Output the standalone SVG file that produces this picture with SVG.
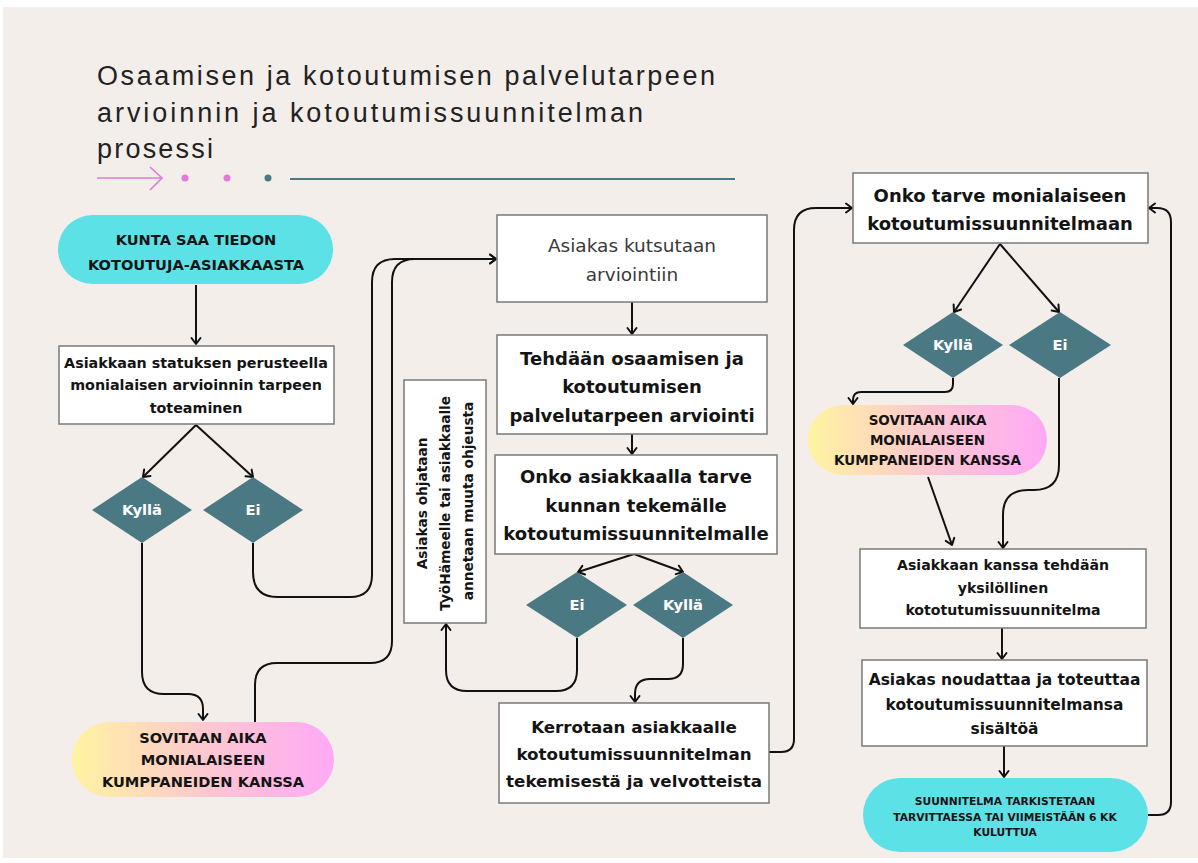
<svg xmlns="http://www.w3.org/2000/svg" width="1198" height="863" viewBox="0 0 1198 863">
<defs>
<linearGradient id="grad" x1="0" y1="0" x2="1" y2="0">
<stop offset="0" stop-color="#fff4a0"/>
<stop offset="0.5" stop-color="#fdc8cf"/>
<stop offset="1" stop-color="#ffa9f6"/>
</linearGradient>
<marker id="arr" markerUnits="userSpaceOnUse" markerWidth="12" markerHeight="12" viewBox="0 0 12 12" refX="10" refY="6" orient="auto">
<path d="M4,1.5 L10,6 L4,10.5" fill="none" stroke="#111" stroke-width="2" stroke-linecap="round" stroke-linejoin="round"/>
</marker>
<style>
.box{fill:#fff;stroke:#7a7a7a;stroke-width:1.5}
.cyan{fill:#5ce1e6}
.pink{fill:url(#grad)}
.dia{fill:#4a7984}
.t{font-family:"DejaVu Sans",sans-serif;font-weight:bold;fill:#141414;text-anchor:middle}
.tw{font-family:"DejaVu Sans",sans-serif;font-weight:bold;fill:#fff;text-anchor:middle;font-size:14.7px}
.tr{font-family:"DejaVu Sans",sans-serif;fill:#3a3a3a;text-anchor:middle}
.title{font-family:"Liberation Sans",Arial,sans-serif;font-size:27px;fill:#222}
.c{fill:none;stroke:#111;stroke-width:2}
</style>
</defs>
<rect x="0" y="0" width="1198" height="863" fill="#fff"/>
<rect x="3" y="7" width="1195" height="851" fill="#f4eeeb"/>

<g id="title">
<text class="title" x="97" y="85" textLength="618" lengthAdjust="spacing">Osaamisen ja kotoutumisen palvelutarpeen</text>
<text class="title" x="97" y="122" textLength="546" lengthAdjust="spacing">arvioinnin ja kotoutumissuunnitelman</text>
<text class="title" x="97" y="158" textLength="116" lengthAdjust="spacing">prosessi</text>
<line x1="97" y1="178" x2="162" y2="178" stroke="#e07bd9" stroke-width="1.6"/>
<path d="M150,167 L162,178 L150,190" fill="none" stroke="#e07bd9" stroke-width="1.6"/>
<circle cx="185" cy="178" r="3.5" fill="#e07bd9"/>
<circle cx="227" cy="178" r="3.5" fill="#e07bd9"/>
<circle cx="268" cy="178" r="3.5" fill="#4a7984"/>
<line x1="290" y1="179" x2="735" y2="179" stroke="#4a7984" stroke-width="2.2"/>
</g>

<g id="connectors">
<path class="c" d="M196,285 L196,344" marker-end="url(#arr)"/>
<path class="c" d="M196,425 L143,477" marker-end="url(#arr)"/>
<path class="c" d="M196,425 L253,477" marker-end="url(#arr)"/>
<path class="c" d="M142,543 L142,672 Q142,694 164,694 L188,694 Q203,694 203,709 L203,720" marker-end="url(#arr)"/>
<path class="c" d="M253,543 L253,572 Q253,597 278,597 L350,597 Q372,597 372,575 L372,282 Q372,259 395,259 L496,259" marker-end="url(#arr)"/>
<path class="c" d="M255,722 L255,685 Q255,663 277,663 L370,663 Q392,663 392,641 L392,282 Q392,259 415,259 L496,259" marker-end="url(#arr)"/>
<path class="c" d="M632,302 L632,334" marker-end="url(#arr)"/>
<path class="c" d="M632,434 L632,454" marker-end="url(#arr)"/>
<path class="c" d="M634,554 L578,572" marker-end="url(#arr)"/>
<path class="c" d="M634,554 L683,572" marker-end="url(#arr)"/>
<path class="c" d="M577,638 L577,670 Q577,691 556,691 L467,691 Q446,691 446,670 L446,624" marker-end="url(#arr)"/>
<path class="c" d="M683,638 L683,664 Q683,679 668,679 L650,679 Q635,679 635,694 L635,702" marker-end="url(#arr)"/>
<path class="c" d="M769,752 L781,752 Q794,752 794,739 L794,230 Q794,208 816,208 L852,208" marker-end="url(#arr)"/>
<path class="c" d="M1000,244 L954,312" marker-end="url(#arr)"/>
<path class="c" d="M1000,244 L1059,312" marker-end="url(#arr)"/>
<path class="c" d="M953,378 L953,384 Q953,392 945,392 L861,392 Q853,392 853,400 L853,404" marker-end="url(#arr)"/>
<path class="c" d="M928,477 L952,545" marker-end="url(#arr)"/>
<path class="c" d="M1059,378 L1059,465 Q1059,490 1034,490 L1028,490 Q1003,490 1003,515 L1003,548" marker-end="url(#arr)"/>
<path class="c" d="M1002,628 L1002,659" marker-end="url(#arr)"/>
<path class="c" d="M1004,746 L1004,777" marker-end="url(#arr)"/>
<path class="c" d="M1148,815 L1158,815 Q1171,815 1171,802 L1171,222 Q1171,208 1157,208 L1149,208" marker-end="url(#arr)"/>
</g>

<g id="n-kunta">
<rect class="cyan" x="58" y="215" width="275" height="69" rx="34.5"/>
<text class="t" font-size="14.6" x="196" y="245">KUNTA SAA TIEDON</text>
<text class="t" font-size="14.6" x="196" y="270">KOTOUTUJA-ASIAKKAASTA</text>
</g>

<g id="n-status">
<rect class="box" x="59" y="346" width="275" height="78"/>
<text class="t" font-size="14.3" x="196" y="368">Asiakkaan statuksen perusteella</text>
<text class="t" font-size="14.3" x="196" y="390">monialaisen arvioinnin tarpeen</text>
<text class="t" font-size="14.3" x="196" y="413">toteaminen</text>
</g>

<g id="n-kylla1">
<polygon class="dia" points="92,510 142,477 192,510 142,543"/>
<text class="tw" x="142" y="515">Kyllä</text>
</g>
<g id="n-ei1">
<polygon class="dia" points="203,510 253,477 303,510 253,543"/>
<text class="tw" x="253" y="515">Ei</text>
</g>

<g id="n-sovitaan1">
<rect class="pink" x="72" y="722" width="262" height="75" rx="37.5"/>
<text class="t" font-size="14.6" x="203" y="743">SOVITAAN AIKA</text>
<text class="t" font-size="14.6" x="203" y="765">MONIALAISEEN</text>
<text class="t" font-size="14.6" x="203" y="787">KUMPPANEIDEN KANSSA</text>
</g>

<g id="n-kutsutaan">
<rect class="box" x="497" y="215" width="270" height="87"/>
<text class="tr" font-size="18.5" x="632" y="252">Asiakas kutsutaan</text>
<text class="tr" font-size="18.5" x="632" y="281">arviointiin</text>
</g>

<g id="n-tehdaan">
<rect class="box" x="497" y="335" width="270" height="99"/>
<text class="t" font-size="18" x="632" y="365">Tehdään osaamisen ja</text>
<text class="t" font-size="18" x="632" y="393">kotoutumisen</text>
<text class="t" font-size="18" x="632" y="422">palvelutarpeen arviointi</text>
</g>

<g id="n-onko1">
<rect class="box" x="495" y="455" width="282" height="99"/>
<text class="t" font-size="18" x="636" y="483">Onko asiakkaalla tarve</text>
<text class="t" font-size="18" x="636" y="512">kunnan tekemälle</text>
<text class="t" font-size="18" x="636" y="540">kotoutumissuunnitelmalle</text>
</g>

<g id="n-ei2">
<polygon class="dia" points="526,605 577,572 627,605 577,638"/>
<text class="tw" x="577" y="610">Ei</text>
</g>
<g id="n-kylla2">
<polygon class="dia" points="633,605 683,572 733,605 683,638"/>
<text class="tw" x="683" y="610">Kyllä</text>
</g>

<g id="n-ohjataan">
<rect class="box" x="404" y="380" width="82" height="243"/>
<text class="t" font-size="13.7" transform="rotate(-90 445 501)">
<tspan x="445" y="483">Asiakas ohjataan</tspan>
<tspan x="445" y="506">TyöHämeelle tai asiakkaalle</tspan>
<tspan x="445" y="529">annetaan muuta ohjeusta</tspan>
</text>
</g>

<g id="n-kerrotaan">
<rect class="box" x="499" y="703" width="270" height="100"/>
<text class="t" font-size="16.7" x="634" y="733">Kerrotaan asiakkaalle</text>
<text class="t" font-size="16.7" x="634" y="760">kotoutumissuunnitelman</text>
<text class="t" font-size="16.7" x="634" y="787">tekemisestä ja velvotteista</text>
</g>

<g id="n-onko2">
<rect class="box" x="853" y="173" width="295" height="70"/>
<text class="t" font-size="18" x="1000" y="202">Onko tarve monialaiseen</text>
<text class="t" font-size="18" x="1000" y="230">kotoutumissuunnitelmaan</text>
</g>

<g id="n-kylla3">
<polygon class="dia" points="903,345 953,312 1003,345 953,378"/>
<text class="tw" x="953" y="350">Kyllä</text>
</g>
<g id="n-ei3">
<polygon class="dia" points="1009,345 1060,312 1111,345 1060,378"/>
<text class="tw" x="1060" y="350">Ei</text>
</g>

<g id="n-sovitaan2">
<rect class="pink" x="808" y="405" width="239" height="70" rx="35"/>
<text class="t" font-size="13.5" x="927.5" y="425">SOVITAAN AIKA</text>
<text class="t" font-size="13.5" x="927.5" y="445">MONIALAISEEN</text>
<text class="t" font-size="13.5" x="927.5" y="465">KUMPPANEIDEN KANSSA</text>
</g>

<g id="n-yksilollinen">
<rect class="box" x="860" y="549" width="286" height="79"/>
<text class="t" font-size="14.1" x="1003" y="570">Asiakkaan kanssa tehdään</text>
<text class="t" font-size="14.1" x="1003" y="593">yksilöllinen</text>
<text class="t" font-size="14.1" x="1003" y="615">kototutumissuunnitelma</text>
</g>

<g id="n-noudattaa">
<rect class="box" x="862" y="660" width="285" height="86"/>
<text class="t" font-size="15.5" x="1004.5" y="685">Asiakas noudattaa ja toteuttaa</text>
<text class="t" font-size="15.5" x="1004.5" y="710">kotoutumissuunnitelmansa</text>
<text class="t" font-size="15.5" x="1004.5" y="734">sisältöä</text>
</g>

<g id="n-tarkistetaan">
<rect class="cyan" x="863" y="778" width="285" height="74" rx="37"/>
<text class="t" font-size="10.7" x="1005" y="805">SUUNNITELMA TARKISTETAAN</text>
<text class="t" font-size="10.7" x="1005" y="821">TARVITTAESSA TAI VIIMEISTÄÄN 6 KK</text>
<text class="t" font-size="10.7" x="1005" y="836">KULUTTUA</text>
</g>
</svg>
